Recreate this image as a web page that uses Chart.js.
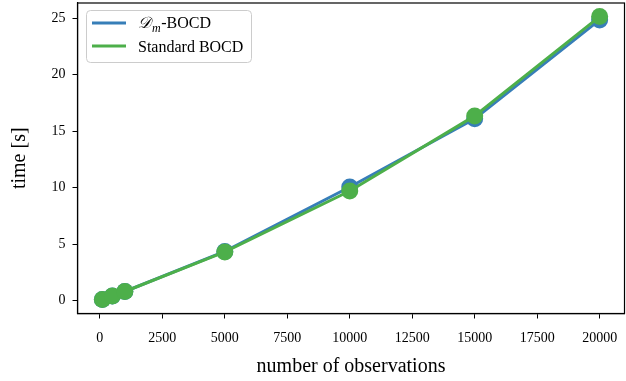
<!DOCTYPE html>
<html><head><meta charset="utf-8">
<script src="https://cdn.jsdelivr.net/npm/chart.js@4/dist/chart.umd.min.js"></script>
<style>html,body{margin:0;padding:0;background:#fff}#wrap{width:626px;height:381px}</style>
</head><body><div id="wrap"><canvas id="c" width="626" height="381"></canvas></div>
<script>
const observations = [100, 500, 1000, 5000, 10000, 15000, 20000];
const dmBocd = [0.1, 0.4, 0.8, 4.35, 10.05, 16.1, 24.85];
const standardBocd = [0.1, 0.4, 0.8, 4.3, 9.7, 16.35, 25.15];
const xTicks = [0, 2500, 5000, 7500, 10000, 12500, 15000, 17500, 20000];
const yTicks = [0, 5, 10, 15, 20, 25];
const seriesNames = ['-BOCD', 'Standard BOCD'];

const BLUE = '#377eb8', GREEN = '#4daf4a';
const SERIF = '"Liberation Serif", "DejaVu Serif", serif';

const framePlugin = {
  id: 'frame',
  afterDatasetsDraw(chart) {
    const a = chart.chartArea, ctx = chart.ctx;
    ctx.save();
    ctx.strokeStyle = '#000'; ctx.lineWidth = 1.2;
    ctx.strokeRect(a.left, a.top, a.right - a.left, a.bottom - a.top);
    ctx.restore();
  },
  afterDraw(chart) {
    const ctx = chart.ctx;
    ctx.save();
    const bx = 86.5, by = 10.5, bw = 165, bh = 52, r = 4;
    ctx.beginPath();
    ctx.moveTo(bx + r, by); ctx.lineTo(bx + bw - r, by); ctx.quadraticCurveTo(bx + bw, by, bx + bw, by + r);
    ctx.lineTo(bx + bw, by + bh - r); ctx.quadraticCurveTo(bx + bw, by + bh, bx + bw - r, by + bh);
    ctx.lineTo(bx + r, by + bh); ctx.quadraticCurveTo(bx, by + bh, bx, by + bh - r);
    ctx.lineTo(bx, by + r); ctx.quadraticCurveTo(bx, by, bx + r, by);
    ctx.closePath();
    ctx.fillStyle = 'rgba(255,255,255,0.8)'; ctx.fill();
    ctx.strokeStyle = '#cccccc'; ctx.lineWidth = 1; ctx.stroke();
    ctx.lineWidth = 3; ctx.lineCap = 'butt';
    ctx.strokeStyle = BLUE; ctx.beginPath(); ctx.moveTo(92, 23); ctx.lineTo(126, 23); ctx.stroke();
    ctx.strokeStyle = GREEN; ctx.beginPath(); ctx.moveTo(92, 46); ctx.lineTo(126, 46); ctx.stroke();
    ctx.fillStyle = '#000'; ctx.textBaseline = 'alphabetic'; ctx.textAlign = 'left';
    let x = 138;
    ctx.font = 'italic 16px ' + SERIF;
    ctx.fillText('\u{1D49F}', x, 28); x += ctx.measureText('\u{1D49F}').width + 1;
    ctx.font = 'italic 12px ' + SERIF;
    ctx.fillText('m', x, 32); x += ctx.measureText('m').width + 0.5;
    ctx.font = '16px ' + SERIF;
    ctx.fillText(seriesNames[0], x, 28);
    ctx.fillText(seriesNames[1], 138, 52);
    ctx.restore();
  }
};

const fixTicks = (vals) => (scale) => { scale.ticks = vals.map(v => ({ value: v })); };
const zeroPad = (s) => { s.paddingLeft = 0; s.paddingRight = 0; s.paddingTop = 0; s.paddingBottom = 0; };

new Chart(document.getElementById('c'), {
  type: 'line',
  data: {
    datasets: [
      { label: 'Dm-BOCD', order: 2, data: observations.map((x, i) => ({ x, y: dmBocd[i] })),
        borderColor: BLUE, backgroundColor: BLUE, borderWidth: 3, pointRadius: 8.5, pointBorderWidth: 0, pointHoverRadius: 8.5, tension: 0 },
      { label: 'Standard BOCD', order: 1, data: observations.map((x, i) => ({ x, y: standardBocd[i] })),
        borderColor: GREEN, backgroundColor: GREEN, borderWidth: 3, pointRadius: 8.5, pointBorderWidth: 0, pointHoverRadius: 8.5, tension: 0 }
    ]
  },
  options: {
    responsive: false, animation: false, devicePixelRatio: 1,
    layout: { autoPadding: false, padding: { left: 0, right: 1.5, top: 3, bottom: 0 } },
    plugins: { legend: { display: false }, tooltip: { enabled: false } },
    scales: {
      x: {
        type: 'linear', min: -895, max: 20995,
        afterBuildTicks: fixTicks(xTicks),
        afterFit: (s) => { s.height = 67.5; zeroPad(s); },
        grid: { drawOnChartArea: false, drawTicks: true, tickLength: 5, color: '#000', tickWidth: 1 },
        border: { display: true, color: '#000', width: 1.2 },
        ticks: { color: '#000', font: { family: SERIF, size: 14 }, padding: 11, maxRotation: 0, autoSkip: false, callback: (v) => String(v) },
        title: { display: true, text: 'number of observations', color: '#000', font: { family: SERIF, size: 20 }, padding: { top: 4, bottom: 2 } }
      },
      y: {
        type: 'linear', min: -1.15, max: 26.35,
        afterBuildTicks: fixTicks(yTicks),
        afterFit: (s) => { s.width = 77.5; zeroPad(s); },
        grid: { drawOnChartArea: false, drawTicks: true, tickLength: 5, color: '#000', tickWidth: 1 },
        border: { display: true, color: '#000', width: 1.2 },
        ticks: { color: '#000', font: { family: SERIF, size: 14 }, padding: 7, callback: (v) => String(v) },
        title: { display: true, text: 'time [s]', color: '#000', font: { family: SERIF, size: 20 }, padding: { top: 8, bottom: 4 } }
      }
    }
  },
  plugins: [framePlugin]
});
</script>
</body></html>
